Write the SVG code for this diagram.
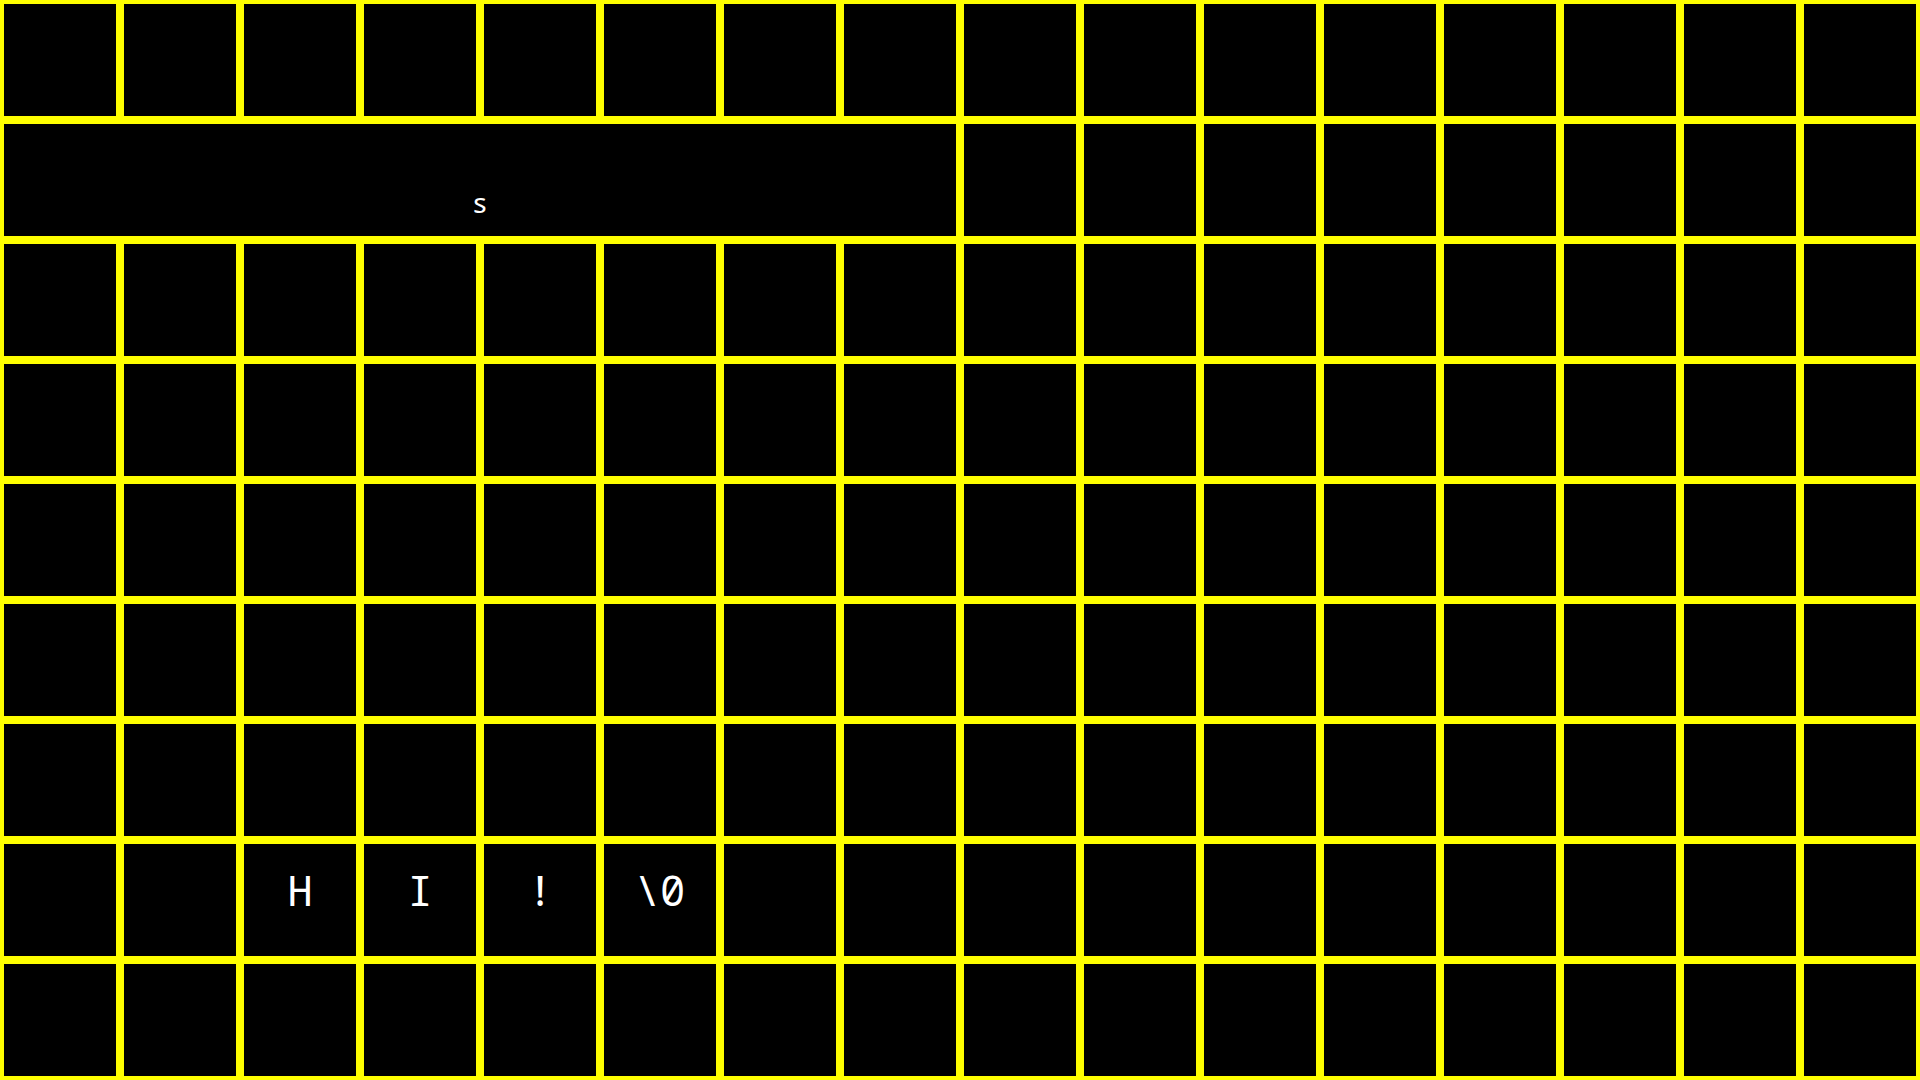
<svg xmlns="http://www.w3.org/2000/svg" width="1920" height="1080" viewBox="0 0 1920 1080">
<style>
.c{fill:#000;stroke:#ffff00;stroke-width:8}
.t{fill:#fff;font-family:"Noto Sans Mono","DejaVu Sans Mono","Liberation Mono",monospace;text-anchor:middle}
.b{font-size:42px}
.s{font-size:28px}
</style>
<rect width="1920" height="1080" fill="#000"/>
<g id="row0">
<g id="c0-0"><rect class="c" x="0" y="0" width="120" height="120"/></g>
<g id="c0-1"><rect class="c" x="120" y="0" width="120" height="120"/></g>
<g id="c0-2"><rect class="c" x="240" y="0" width="120" height="120"/></g>
<g id="c0-3"><rect class="c" x="360" y="0" width="120" height="120"/></g>
<g id="c0-4"><rect class="c" x="480" y="0" width="120" height="120"/></g>
<g id="c0-5"><rect class="c" x="600" y="0" width="120" height="120"/></g>
<g id="c0-6"><rect class="c" x="720" y="0" width="120" height="120"/></g>
<g id="c0-7"><rect class="c" x="840" y="0" width="120" height="120"/></g>
<g id="c0-8"><rect class="c" x="960" y="0" width="120" height="120"/></g>
<g id="c0-9"><rect class="c" x="1080" y="0" width="120" height="120"/></g>
<g id="c0-10"><rect class="c" x="1200" y="0" width="120" height="120"/></g>
<g id="c0-11"><rect class="c" x="1320" y="0" width="120" height="120"/></g>
<g id="c0-12"><rect class="c" x="1440" y="0" width="120" height="120"/></g>
<g id="c0-13"><rect class="c" x="1560" y="0" width="120" height="120"/></g>
<g id="c0-14"><rect class="c" x="1680" y="0" width="120" height="120"/></g>
<g id="c0-15"><rect class="c" x="1800" y="0" width="120" height="120"/></g>
</g>
<g id="row1">
<g id="s"><rect class="c" x="0" y="120" width="960" height="120"/><text class="t s" x="480" y="213">s</text></g>
<g id="c1-8"><rect class="c" x="960" y="120" width="120" height="120"/></g>
<g id="c1-9"><rect class="c" x="1080" y="120" width="120" height="120"/></g>
<g id="c1-10"><rect class="c" x="1200" y="120" width="120" height="120"/></g>
<g id="c1-11"><rect class="c" x="1320" y="120" width="120" height="120"/></g>
<g id="c1-12"><rect class="c" x="1440" y="120" width="120" height="120"/></g>
<g id="c1-13"><rect class="c" x="1560" y="120" width="120" height="120"/></g>
<g id="c1-14"><rect class="c" x="1680" y="120" width="120" height="120"/></g>
<g id="c1-15"><rect class="c" x="1800" y="120" width="120" height="120"/></g>
</g>
<g id="row2">
<g id="c2-0"><rect class="c" x="0" y="240" width="120" height="120"/></g>
<g id="c2-1"><rect class="c" x="120" y="240" width="120" height="120"/></g>
<g id="c2-2"><rect class="c" x="240" y="240" width="120" height="120"/></g>
<g id="c2-3"><rect class="c" x="360" y="240" width="120" height="120"/></g>
<g id="c2-4"><rect class="c" x="480" y="240" width="120" height="120"/></g>
<g id="c2-5"><rect class="c" x="600" y="240" width="120" height="120"/></g>
<g id="c2-6"><rect class="c" x="720" y="240" width="120" height="120"/></g>
<g id="c2-7"><rect class="c" x="840" y="240" width="120" height="120"/></g>
<g id="c2-8"><rect class="c" x="960" y="240" width="120" height="120"/></g>
<g id="c2-9"><rect class="c" x="1080" y="240" width="120" height="120"/></g>
<g id="c2-10"><rect class="c" x="1200" y="240" width="120" height="120"/></g>
<g id="c2-11"><rect class="c" x="1320" y="240" width="120" height="120"/></g>
<g id="c2-12"><rect class="c" x="1440" y="240" width="120" height="120"/></g>
<g id="c2-13"><rect class="c" x="1560" y="240" width="120" height="120"/></g>
<g id="c2-14"><rect class="c" x="1680" y="240" width="120" height="120"/></g>
<g id="c2-15"><rect class="c" x="1800" y="240" width="120" height="120"/></g>
</g>
<g id="row3">
<g id="c3-0"><rect class="c" x="0" y="360" width="120" height="120"/></g>
<g id="c3-1"><rect class="c" x="120" y="360" width="120" height="120"/></g>
<g id="c3-2"><rect class="c" x="240" y="360" width="120" height="120"/></g>
<g id="c3-3"><rect class="c" x="360" y="360" width="120" height="120"/></g>
<g id="c3-4"><rect class="c" x="480" y="360" width="120" height="120"/></g>
<g id="c3-5"><rect class="c" x="600" y="360" width="120" height="120"/></g>
<g id="c3-6"><rect class="c" x="720" y="360" width="120" height="120"/></g>
<g id="c3-7"><rect class="c" x="840" y="360" width="120" height="120"/></g>
<g id="c3-8"><rect class="c" x="960" y="360" width="120" height="120"/></g>
<g id="c3-9"><rect class="c" x="1080" y="360" width="120" height="120"/></g>
<g id="c3-10"><rect class="c" x="1200" y="360" width="120" height="120"/></g>
<g id="c3-11"><rect class="c" x="1320" y="360" width="120" height="120"/></g>
<g id="c3-12"><rect class="c" x="1440" y="360" width="120" height="120"/></g>
<g id="c3-13"><rect class="c" x="1560" y="360" width="120" height="120"/></g>
<g id="c3-14"><rect class="c" x="1680" y="360" width="120" height="120"/></g>
<g id="c3-15"><rect class="c" x="1800" y="360" width="120" height="120"/></g>
</g>
<g id="row4">
<g id="c4-0"><rect class="c" x="0" y="480" width="120" height="120"/></g>
<g id="c4-1"><rect class="c" x="120" y="480" width="120" height="120"/></g>
<g id="c4-2"><rect class="c" x="240" y="480" width="120" height="120"/></g>
<g id="c4-3"><rect class="c" x="360" y="480" width="120" height="120"/></g>
<g id="c4-4"><rect class="c" x="480" y="480" width="120" height="120"/></g>
<g id="c4-5"><rect class="c" x="600" y="480" width="120" height="120"/></g>
<g id="c4-6"><rect class="c" x="720" y="480" width="120" height="120"/></g>
<g id="c4-7"><rect class="c" x="840" y="480" width="120" height="120"/></g>
<g id="c4-8"><rect class="c" x="960" y="480" width="120" height="120"/></g>
<g id="c4-9"><rect class="c" x="1080" y="480" width="120" height="120"/></g>
<g id="c4-10"><rect class="c" x="1200" y="480" width="120" height="120"/></g>
<g id="c4-11"><rect class="c" x="1320" y="480" width="120" height="120"/></g>
<g id="c4-12"><rect class="c" x="1440" y="480" width="120" height="120"/></g>
<g id="c4-13"><rect class="c" x="1560" y="480" width="120" height="120"/></g>
<g id="c4-14"><rect class="c" x="1680" y="480" width="120" height="120"/></g>
<g id="c4-15"><rect class="c" x="1800" y="480" width="120" height="120"/></g>
</g>
<g id="row5">
<g id="c5-0"><rect class="c" x="0" y="600" width="120" height="120"/></g>
<g id="c5-1"><rect class="c" x="120" y="600" width="120" height="120"/></g>
<g id="c5-2"><rect class="c" x="240" y="600" width="120" height="120"/></g>
<g id="c5-3"><rect class="c" x="360" y="600" width="120" height="120"/></g>
<g id="c5-4"><rect class="c" x="480" y="600" width="120" height="120"/></g>
<g id="c5-5"><rect class="c" x="600" y="600" width="120" height="120"/></g>
<g id="c5-6"><rect class="c" x="720" y="600" width="120" height="120"/></g>
<g id="c5-7"><rect class="c" x="840" y="600" width="120" height="120"/></g>
<g id="c5-8"><rect class="c" x="960" y="600" width="120" height="120"/></g>
<g id="c5-9"><rect class="c" x="1080" y="600" width="120" height="120"/></g>
<g id="c5-10"><rect class="c" x="1200" y="600" width="120" height="120"/></g>
<g id="c5-11"><rect class="c" x="1320" y="600" width="120" height="120"/></g>
<g id="c5-12"><rect class="c" x="1440" y="600" width="120" height="120"/></g>
<g id="c5-13"><rect class="c" x="1560" y="600" width="120" height="120"/></g>
<g id="c5-14"><rect class="c" x="1680" y="600" width="120" height="120"/></g>
<g id="c5-15"><rect class="c" x="1800" y="600" width="120" height="120"/></g>
</g>
<g id="row6">
<g id="c6-0"><rect class="c" x="0" y="720" width="120" height="120"/></g>
<g id="c6-1"><rect class="c" x="120" y="720" width="120" height="120"/></g>
<g id="c6-2"><rect class="c" x="240" y="720" width="120" height="120"/></g>
<g id="c6-3"><rect class="c" x="360" y="720" width="120" height="120"/></g>
<g id="c6-4"><rect class="c" x="480" y="720" width="120" height="120"/></g>
<g id="c6-5"><rect class="c" x="600" y="720" width="120" height="120"/></g>
<g id="c6-6"><rect class="c" x="720" y="720" width="120" height="120"/></g>
<g id="c6-7"><rect class="c" x="840" y="720" width="120" height="120"/></g>
<g id="c6-8"><rect class="c" x="960" y="720" width="120" height="120"/></g>
<g id="c6-9"><rect class="c" x="1080" y="720" width="120" height="120"/></g>
<g id="c6-10"><rect class="c" x="1200" y="720" width="120" height="120"/></g>
<g id="c6-11"><rect class="c" x="1320" y="720" width="120" height="120"/></g>
<g id="c6-12"><rect class="c" x="1440" y="720" width="120" height="120"/></g>
<g id="c6-13"><rect class="c" x="1560" y="720" width="120" height="120"/></g>
<g id="c6-14"><rect class="c" x="1680" y="720" width="120" height="120"/></g>
<g id="c6-15"><rect class="c" x="1800" y="720" width="120" height="120"/></g>
</g>
<g id="row7">
<g id="c7-0"><rect class="c" x="0" y="840" width="120" height="120"/></g>
<g id="c7-1"><rect class="c" x="120" y="840" width="120" height="120"/></g>
<g id="c7-2"><rect class="c" x="240" y="840" width="120" height="120"/><text class="t b" x="300" y="906">H</text></g>
<g id="c7-3"><rect class="c" x="360" y="840" width="120" height="120"/><text class="t b" x="420" y="906">I</text></g>
<g id="c7-4"><rect class="c" x="480" y="840" width="120" height="120"/><text class="t b" x="540" y="906">!</text></g>
<g id="c7-5"><rect class="c" x="600" y="840" width="120" height="120"/><text class="t b" x="660" y="906">\0</text></g>
<g id="c7-6"><rect class="c" x="720" y="840" width="120" height="120"/></g>
<g id="c7-7"><rect class="c" x="840" y="840" width="120" height="120"/></g>
<g id="c7-8"><rect class="c" x="960" y="840" width="120" height="120"/></g>
<g id="c7-9"><rect class="c" x="1080" y="840" width="120" height="120"/></g>
<g id="c7-10"><rect class="c" x="1200" y="840" width="120" height="120"/></g>
<g id="c7-11"><rect class="c" x="1320" y="840" width="120" height="120"/></g>
<g id="c7-12"><rect class="c" x="1440" y="840" width="120" height="120"/></g>
<g id="c7-13"><rect class="c" x="1560" y="840" width="120" height="120"/></g>
<g id="c7-14"><rect class="c" x="1680" y="840" width="120" height="120"/></g>
<g id="c7-15"><rect class="c" x="1800" y="840" width="120" height="120"/></g>
</g>
<g id="row8">
<g id="c8-0"><rect class="c" x="0" y="960" width="120" height="120"/></g>
<g id="c8-1"><rect class="c" x="120" y="960" width="120" height="120"/></g>
<g id="c8-2"><rect class="c" x="240" y="960" width="120" height="120"/></g>
<g id="c8-3"><rect class="c" x="360" y="960" width="120" height="120"/></g>
<g id="c8-4"><rect class="c" x="480" y="960" width="120" height="120"/></g>
<g id="c8-5"><rect class="c" x="600" y="960" width="120" height="120"/></g>
<g id="c8-6"><rect class="c" x="720" y="960" width="120" height="120"/></g>
<g id="c8-7"><rect class="c" x="840" y="960" width="120" height="120"/></g>
<g id="c8-8"><rect class="c" x="960" y="960" width="120" height="120"/></g>
<g id="c8-9"><rect class="c" x="1080" y="960" width="120" height="120"/></g>
<g id="c8-10"><rect class="c" x="1200" y="960" width="120" height="120"/></g>
<g id="c8-11"><rect class="c" x="1320" y="960" width="120" height="120"/></g>
<g id="c8-12"><rect class="c" x="1440" y="960" width="120" height="120"/></g>
<g id="c8-13"><rect class="c" x="1560" y="960" width="120" height="120"/></g>
<g id="c8-14"><rect class="c" x="1680" y="960" width="120" height="120"/></g>
<g id="c8-15"><rect class="c" x="1800" y="960" width="120" height="120"/></g>
</g>
<g id="connectors"></g>
</svg>
